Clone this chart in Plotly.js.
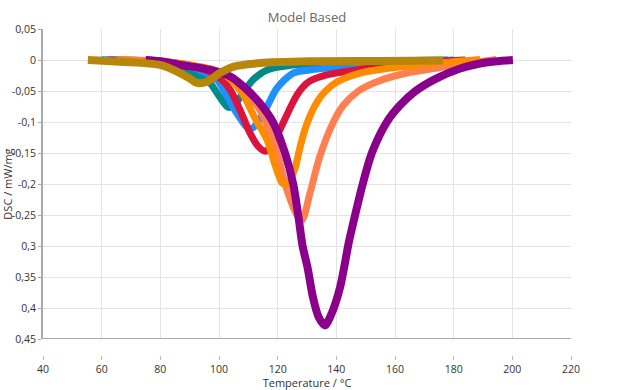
<!DOCTYPE html>
<html>
<head>
<meta charset="utf-8">
<script src="https://cdn.plot.ly/plotly-3.0.1.min.js"></script>
<style>html,body{margin:0;padding:0;background:#fff;}#chart{width:640px;height:390px;}</style>
</head>
<body>
<div id="chart"></div>
<script>
// Temperature (°C) and DSC (mW/mg) values
const tealT = [60, 80, 89.1, 93.5, 96.9, 100.3, 103.1, 105.1, 107.2, 111.6, 116.4, 125.2, 144.7, 178];
const tealV = [0, -0.004, -0.019, -0.027, -0.037, -0.06, -0.076, -0.074, -0.06, -0.032, -0.016, -0.008, -0.003, 0];

const blueT = [60, 80, 93.5, 99.3, 102, 104.8, 107.2, 109.5, 111.3, 113.3, 116.4, 119.8, 125.3, 131, 141.3, 160, 180];
const blueV = [0, -0.003, -0.016, -0.032, -0.052, -0.076, -0.094, -0.108, -0.11, -0.1, -0.075, -0.045, -0.021, -0.016, -0.011, -0.004, 0];

const crimsonT = [62, 80, 93.5, 100.3, 103.8, 107.2, 110.6, 113.3, 115.7, 117.6, 119.5, 121, 122.8, 124.5, 126.5, 128.5, 131, 136.7, 147, 160, 172, 184];
const crimsonV = [0, -0.002, -0.013, -0.029, -0.048, -0.081, -0.118, -0.139, -0.147, -0.14, -0.125, -0.11, -0.092, -0.075, -0.057, -0.044, -0.034, -0.024, -0.016, -0.008, -0.003, 0];

const coralT = [65, 80, 90, 100.3, 107.2, 114, 119.8, 123.2, 126.6, 128.3, 131, 134.4, 139, 142.4, 147.5, 153.8, 164, 174.2, 185, 194.5];
const coralV = [0, -0.002, -0.008, -0.019, -0.044, -0.081, -0.15, -0.21, -0.25, -0.258, -0.215, -0.155, -0.1, -0.073, -0.05, -0.035, -0.021, -0.013, -0.005, 0.001];

const orangeT = [66, 80, 90, 100.3, 104.8, 108.2, 112.3, 116.4, 119.1, 121.5, 123.2, 125.9, 127.4, 129.3, 131.3, 133.5, 136.1, 140, 148.1, 158.3, 172, 189];
const orangeV = [0, -0.002, -0.008, -0.019, -0.035, -0.056, -0.094, -0.129, -0.169, -0.198, -0.2, -0.175, -0.145, -0.112, -0.087, -0.067, -0.051, -0.036, -0.021, -0.013, -0.006, 0.001];

const purpleT = [75, 80, 87, 97, 104, 110, 114, 118.4, 122.5, 125.3, 127, 128.5, 130.2, 132, 134, 136.1, 138.3, 141.3, 144.3, 146.4, 149, 152.1, 157.2, 161.7, 167, 174, 182, 191, 200.2];
const purpleV = [0, -0.002, -0.008, -0.016, -0.027, -0.05, -0.07, -0.1, -0.15, -0.2, -0.25, -0.3, -0.335, -0.382, -0.415, -0.428, -0.41, -0.366, -0.293, -0.25, -0.2, -0.15, -0.1, -0.073, -0.05, -0.03, -0.014, -0.004, 0];

const goldT = [55.3, 66.3, 79.9, 86.7, 90.1, 92.5, 95.9, 100.3, 104.8, 114, 131, 155, 176.4];
const goldV = [0, -0.003, -0.008, -0.021, -0.03, -0.037, -0.035, -0.021, -0.011, -0.005, -0.002, -0.0015, -0.001];

const yTickVals = [0.05, 0, -0.05, -0.1, -0.15, -0.2, -0.25, -0.3, -0.35, -0.4, -0.45];
const yTickText = ["0,05", "0", "-0,05", "-0,1", "-0,15", "-0,2", "-0,25", "0,3", "0,35", "0,4", "0,45"];
const xTickVals = [40, 60, 80, 100, 120, 140, 160, 180, 200, 220];

const series = [
  {x: tealT, y: tealV, color: '#008B8B', w: 7},
  {x: blueT, y: blueV, color: '#1E90FF', w: 7},
  {x: crimsonT, y: crimsonV, color: '#DC143C', w: 7},
  {x: coralT, y: coralV, color: '#FF7F50', w: 7},
  {x: orangeT, y: orangeV, color: '#FF8C00', w: 7},
  {x: purpleT, y: purpleV, color: '#8B008B', w: 8},
  {x: goldT, y: goldV, color: '#B8860B', w: 8}
];

const traces = series.map(s => ({
  type: 'scatter', mode: 'lines', x: s.x, y: s.y,
  line: {color: s.color, width: s.w, shape: 'spline', smoothing: 0.8},
  hoverinfo: 'skip', showlegend: false
}));

const font = {family: '"Open Sans", "Noto Sans", sans-serif', size: 10.5, color: '#333'};

const layout = {
  width: 640, height: 390,
  margin: {l: 43, r: 69, t: 29, b: 35, pad: 0},
  paper_bgcolor: '#fff', plot_bgcolor: '#fff',
  font: font,
  title: {text: 'Model Based', font: {family: font.family, size: 13, color: '#666'}, x: 0.5, xref: 'paper', y: 0.955, yref: 'container', yanchor: 'middle'},
  showlegend: false,
  xaxis: {
    range: [40, 220], tickvals: xTickVals, ticktext: xTickVals.map(String),
    anchor: 'free', position: 0,
    showgrid: true, gridcolor: '#e4e4e4', gridwidth: 1,
    zeroline: false, showline: false,
    ticks: 'outside', ticklen: 4, tickcolor: '#bbb',
    tickfont: font,
    title: {text: 'Temperature / °C', font: {family: font.family, size: 11, color: '#333'}, standoff: 4}
  },
  yaxis: {
    range: [-0.45, 0.05], domain: [0.049, 1],
    tickvals: yTickVals, ticktext: yTickText,
    showgrid: true, gridcolor: '#e4e4e4', gridwidth: 1,
    zeroline: false, showline: true, linecolor: '#aaa', linewidth: 2,
    ticks: 'outside', ticklen: 3, tickcolor: '#aaa',
    tickfont: font,
    title: {text: 'DSC / mW/mg', font: {family: font.family, size: 11, color: '#333'}, standoff: 2}
  },
  shapes: [
    {type: 'line', xref: 'paper', x0: 0, x1: 1, yref: 'y', y0: -0.4515, y1: -0.4515, line: {color: '#a9a9a9', width: 4}}
  ]
};

Plotly.newPlot('chart', traces, layout, {displayModeBar: false, staticPlot: true});
</script>
</body>
</html>
